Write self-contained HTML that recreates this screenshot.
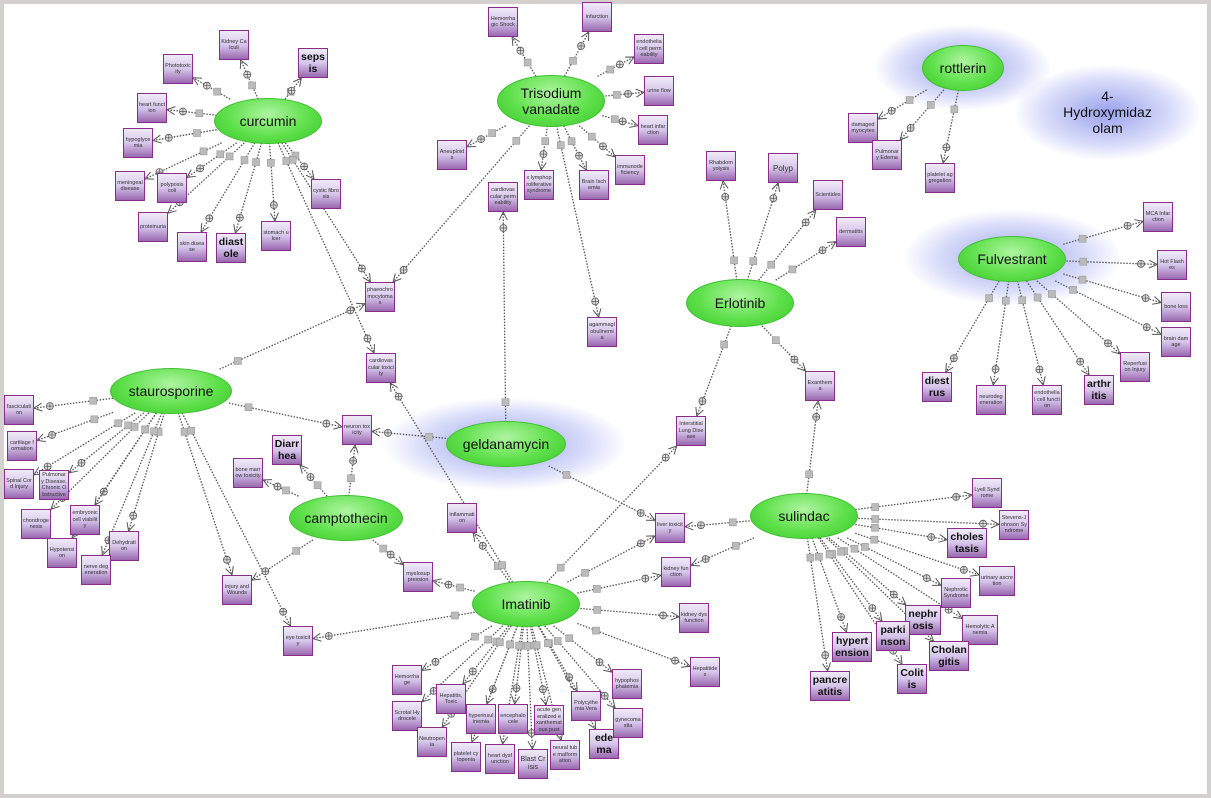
<!DOCTYPE html>
<html><head><meta charset="utf-8"><style>
body{margin:0;width:1211px;height:798px;overflow:hidden;background:#fff;font-family:"Liberation Sans",sans-serif}
#fr{position:absolute;left:0;top:0;width:1203px;height:790px;border:4px solid #d4d0d0;border-right-width:4px}
svg{position:absolute;left:0;top:0}
.b{position:absolute;width:30px;height:30px;margin:-15px 0 0 -15px;box-sizing:border-box;border:1.5px solid #8a2d8a;background:linear-gradient(#f0eaf8,#d6c6ea 50%,#9a68b0);display:flex;align-items:center;justify-content:center;text-align:center;font-size:5.5px;line-height:6.5px;color:#333;word-break:break-all;overflow:hidden;padding:1px}
.k{width:40px;height:30px;margin:-15px 0 0 -20px;font-size:10.5px;line-height:12px;color:#111;font-weight:bold}
.h{position:absolute;border-radius:50%;background:radial-gradient(ellipse at 50% 35%,#aef5a0,#5ee04a 55%,#3cc62c);border:1px solid #3fbf30;display:flex;align-items:center;justify-content:center;text-align:center;font-size:14px;line-height:16px;color:#111}
.g{position:absolute;border-radius:50%;background:radial-gradient(ellipse,rgba(120,130,230,.75),rgba(150,160,240,.35) 50%,rgba(255,255,255,0) 72%)}
</style></head><body>
<div id="fr"></div>
<div class="g" style="left:875px;top:25px;width:175px;height:85px"></div>
<div class="g" style="left:1015px;top:65px;width:185px;height:95px"></div>
<div class="g" style="left:905px;top:210px;width:215px;height:95px"></div>
<div class="g" style="left:385px;top:398px;width:240px;height:92px"></div>
<svg id="s" width="1211" height="798"></svg>
<div class="h" id="cur" style="left:214px;top:98px;width:106px;height:44px">curcumin</div>
<div class="h" id="tri" style="left:497px;top:75px;width:106px;height:50px">Trisodium<br>vanadate</div>
<div class="h" id="rot" style="left:922px;top:45px;width:80px;height:44px">rottlerin</div>
<div class="h" style="left:1050px;top:90px;width:115px;height:44px;background:none;border:none">4-<br>Hydroxymidaz<br>olam</div>
<div class="h" id="ful" style="left:958px;top:236px;width:106px;height:44px">Fulvestrant</div>
<div class="h" id="erl" style="left:686px;top:279px;width:106px;height:46px">Erlotinib</div>
<div class="h" id="sta" style="left:110px;top:368px;width:120px;height:44px">staurosporine</div>
<div class="h" id="gel" style="left:446px;top:421px;width:118px;height:44px">geldanamycin</div>
<div class="h" id="cam" style="left:289px;top:495px;width:112px;height:44px">camptothecin</div>
<div class="h" id="sul" style="left:750px;top:493px;width:106px;height:44px">sulindac</div>
<div class="h" id="ima" style="left:472px;top:581px;width:106px;height:44px">Imatinib</div>

<div class="b" id="kc" style="left:234px;top:45px">Kidney Calculi</div>
<div class="b k" id="sep" style="left:313px;top:63px;width:30px;margin-left:-15px">sepsis</div>
<div class="b" id="pho" style="left:178px;top:69px">Phototoxicity</div>
<div class="b" id="hf" style="left:152px;top:108px">heart function</div>
<div class="b" id="hyp" style="left:138px;top:143px">hypoglycemia</div>
<div class="b" id="men" style="left:130px;top:186px">meningeal disease</div>
<div class="b" id="pol" style="left:172px;top:188px">polyposis coli</div>
<div class="b" id="pro" style="left:153px;top:227px">proteinuria</div>
<div class="b" id="skin" style="left:192px;top:247px">skin disease</div>
<div class="b k" id="dia" style="left:231px;top:248px;width:30px;margin-left:-15px">diastole</div>
<div class="b" id="sto" style="left:276px;top:236px">stomach ulcer</div>
<div class="b" id="cys" style="left:326px;top:194px">cystic fibrosis</div>

<div class="b" id="hs" style="left:503px;top:22px">Hemorrhagic Shock</div>
<div class="b" id="inf" style="left:597px;top:17px">infarction</div>
<div class="b" id="ecp" style="left:649px;top:49px">endothelial cell permeability</div>
<div class="b" id="uf" style="left:659px;top:91px">urine flow</div>
<div class="b" id="hi" style="left:653px;top:130px">heart infarction</div>
<div class="b" id="imm" style="left:630px;top:170px">immunodeficiency</div>
<div class="b" id="bi" style="left:594px;top:185px">Brain Ischemia</div>
<div class="b" id="klp" style="left:539px;top:185px">x lymphoproliferative syndrome</div>
<div class="b" id="cvp" style="left:503px;top:197px">cardiovascular permeability</div>
<div class="b" id="aneu" style="left:452px;top:155px">Aneuploids</div>
<div class="b" id="pha" style="left:380px;top:297px">phaeochromocytomas</div>
<div class="b" id="agam" style="left:602px;top:332px">agammaglobulinemia</div>
<div class="b" id="cvt" style="left:381px;top:368px">cardiovascular toxicity</div>

<div class="b" id="dm" style="left:863px;top:128px">damaged myocytes</div>
<div class="b" id="pe" style="left:887px;top:155px">Pulmonary Edema</div>
<div class="b" id="pa" style="left:940px;top:178px">platelet aggregation</div>

<div class="b" id="mca" style="left:1158px;top:217px">MCA Infarction</div>
<div class="b" id="hot" style="left:1172px;top:265px">Hot Flashes</div>
<div class="b" id="bone" style="left:1176px;top:307px">bone loss</div>
<div class="b" id="brain" style="left:1176px;top:342px">brain damage</div>
<div class="b" id="rep" style="left:1135px;top:367px">Reperfusion Injury</div>
<div class="b k" id="arth" style="left:1099px;top:390px;width:30px;margin-left:-15px">arthritis</div>
<div class="b" id="endo" style="left:1047px;top:400px">endothelial cell function</div>
<div class="b" id="neuro" style="left:991px;top:400px">neurodegeneration</div>
<div class="b k" id="die" style="left:937px;top:387px;width:30px;margin-left:-15px">diestrus</div>

<div class="b" id="rhab" style="left:721px;top:166px">Rhabdomyolysis</div>
<div class="b" id="polyp" style="left:783px;top:168px;font-size:8px;line-height:9px">Polyp</div>
<div class="b" id="sci" style="left:828px;top:195px">Scientides</div>
<div class="b" id="derm" style="left:851px;top:232px">dermatitis</div>
<div class="b" id="exan" style="left:820px;top:386px">Exanthema</div>
<div class="b" id="ild" style="left:691px;top:431px">Interstitial Lung Disease</div>

<div class="b" id="fas" style="left:19px;top:410px">fasciculation</div>
<div class="b" id="cart" style="left:22px;top:446px">cartilage formation</div>
<div class="b" id="spin" style="left:19px;top:484px">Spinal Cord Injury</div>
<div class="b" id="copd" style="left:54px;top:485px">Pulmonary Disease, Chronic Obstructive</div>
<div class="b" id="chon" style="left:36px;top:524px">chondrogenesis</div>
<div class="b" id="emb" style="left:85px;top:520px">embryonic cell viability</div>
<div class="b" id="hypo" style="left:62px;top:553px">Hypotension</div>
<div class="b" id="dehy" style="left:124px;top:546px">Dehydration</div>
<div class="b" id="nerve" style="left:96px;top:570px">nerve degeneration</div>
<div class="b" id="neu" style="left:357px;top:430px">neuron toxicity</div>
<div class="b" id="inj" style="left:237px;top:590px">injury and Wounds</div>
<div class="b" id="eye" style="left:298px;top:641px">eye toxicity</div>

<div class="b k" id="diar" style="left:287px;top:450px;width:30px;margin-left:-15px">Diarrhea</div>
<div class="b" id="bmt" style="left:248px;top:473px">bone marrow toxicity</div>
<div class="b" id="myel" style="left:418px;top:577px">myelosuppression</div>

<div class="b" id="infl" style="left:462px;top:518px">inflammation</div>
<div class="b" id="liv" style="left:670px;top:528px">liver toxicity</div>
<div class="b" id="kf" style="left:676px;top:572px">kidney function</div>
<div class="b" id="kd" style="left:694px;top:618px">kidney dysfunction</div>
<div class="b" id="hep" style="left:705px;top:672px">Hepatitides</div>
<div class="b" id="hem" style="left:407px;top:680px">Hemorrhage</div>
<div class="b" id="scr" style="left:407px;top:716px">Scrotal Hydrocele</div>
<div class="b" id="hept" style="left:451px;top:699px">Hepatitis, Toxic</div>
<div class="b" id="neut" style="left:432px;top:742px">Neutropenia</div>
<div class="b" id="hyper" style="left:481px;top:719px">hyperinsulinemia</div>
<div class="b" id="plat" style="left:466px;top:757px">platelet cytopenia</div>
<div class="b" id="ence" style="left:513px;top:719px">encephalocele</div>
<div class="b" id="hd" style="left:500px;top:759px">heart dysfunction</div>
<div class="b" id="blast" style="left:533px;top:764px;font-size:7px;line-height:8px">Blast Crisis</div>
<div class="b" id="agep" style="left:549px;top:720px">acute generalized exanthematous pust</div>
<div class="b" id="ntm" style="left:565px;top:755px">neural tube malformation</div>
<div class="b" id="poly" style="left:586px;top:706px">Polycythemia Vera</div>
<div class="b k" id="edema" style="left:604px;top:744px;width:30px;margin-left:-15px">edema</div>
<div class="b" id="hypop" style="left:627px;top:684px">hypophosphatemia</div>
<div class="b" id="gyn" style="left:628px;top:723px">gynecomastia</div>

<div class="b" id="lyell" style="left:987px;top:493px">Lyell Syndrome</div>
<div class="b" id="sjs" style="left:1014px;top:525px">Stevens-Johnson Syndrome</div>
<div class="b k" id="chol" style="left:967px;top:543px">cholestasis</div>
<div class="b" id="uri" style="left:997px;top:581px;width:36px;margin-left:-18px">urinary ascretion</div>
<div class="b" id="neph" style="left:956px;top:593px">Nephrotic Syndrome</div>
<div class="b" id="hem2" style="left:980px;top:630px;width:36px;margin-left:-18px">Hemolytic Anemia</div>
<div class="b k" id="nephr" style="left:923px;top:620px;width:36px;margin-left:-18px">nephrosis</div>
<div class="b k" id="chola" style="left:949px;top:656px">Cholangitis</div>
<div class="b k" id="park" style="left:893px;top:636px;width:34px;margin-left:-17px">parkinson</div>
<div class="b k" id="col" style="left:912px;top:679px;width:30px;margin-left:-15px">Colitis</div>
<div class="b k" id="hyt" style="left:852px;top:647px">hypertension</div>
<div class="b k" id="panc" style="left:830px;top:686px">pancreatitis</div>

<script>
var E={cur:"kc sep pho hf hyp men pol pro skin dia sto cys pha cvt",
tri:"hs inf ecp uf hi imm bi klp aneu pha agam",
gel:"cvp neu liv",
sta:"fas cart spin copd chon emb hypo dehy nerve neu inj eye pha",
cam:"diar bmt neu myel inj",
ima:"infl liv kf kd hep hem scr hept neut hyper plat ence hd blast agep ntm poly edema hypop gyn eye cvt ild myel",
erl:"rhab polyp sci derm exan ild",
sul:"lyell sjs chol uri neph hem2 nephr chola park col hyt panc liv kf exan",
ful:"mca hot bone brain rep arth endo neuro die",
rot:"dm pe pa"};
var s=document.getElementById('s'),h='';
function c(id){var e=document.getElementById(id),r=e.getBoundingClientRect();return[r.left+r.width/2,r.top+r.height/2,r.width/2,r.height/2];}
for(var k in E){var a=c(k);E[k].split(' ').forEach(function(id){var b=c(id);var dx=b[0]-a[0],dy=b[1]-a[1],L=Math.hypot(dx,dy),ux=dx/L,uy=dy/L;
var ta=Math.min(a[2]/Math.abs(ux||1e-6),a[3]/Math.abs(uy||1e-6))*0.95,tb=Math.min(b[2]/Math.abs(ux||1e-6),b[3]/Math.abs(uy||1e-6));
var x1=a[0]+ux*ta,y1=a[1]+uy*ta,x2=b[0]-ux*tb,y2=b[1]-uy*tb,l=Math.hypot(x2-x1,y2-y1);
h+='<line x1="'+x1+'" y1="'+y1+'" x2="'+x2+'" y2="'+y2+'" stroke="#555" stroke-width="1.3" stroke-dasharray="1.5,1.5"/>';
var mx=x1+ux*Math.min(20,l*.35),my=y1+uy*Math.min(20,l*.35);
h+='<rect x="'+(mx-3.5)+'" y="'+(my-3.5)+'" width="7" height="7" fill="#bbb" stroke="#999" stroke-width=".6"/>';
var px=x2-ux*16,py=y2-uy*16;
h+='<circle cx="'+px+'" cy="'+py+'" r="3.5" fill="#ddd" stroke="#555" stroke-width=".8"/><path d="M'+(px-3)+' '+py+'h6M'+px+' '+(py-3)+'v6" stroke="#555" stroke-width=".7"/>';
var nx=-uy,ny=ux;
h+='<path d="M'+(x2-ux*8+nx*4)+' '+(y2-uy*8+ny*4)+'L'+x2+' '+y2+'L'+(x2-ux*8-nx*4)+' '+(y2-uy*8-ny*4)+'" fill="none" stroke="#555" stroke-width="1"/>';});}
s.innerHTML=h;
</script>
</body></html>
